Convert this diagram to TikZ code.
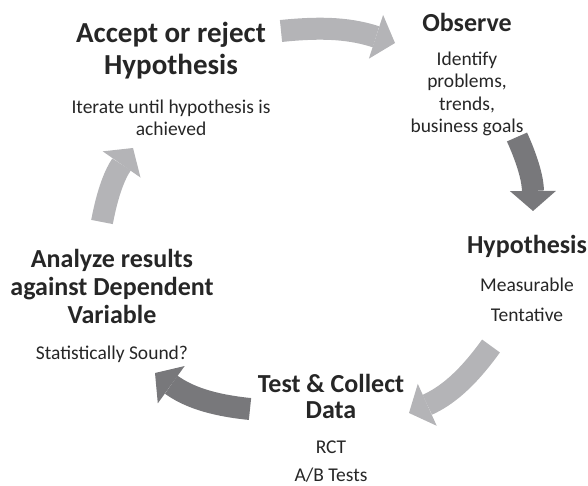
\documentclass[tikz,border=0pt]{standalone}
\usepackage{fontspec}
\setmainfont{Carlito}
\usepackage{xcolor}
\usetikzlibrary{arrows.meta,positioning}

\definecolor{inkgray}{HTML}{262626}
\definecolor{arrowlight}{HTML}{B4B4B7}
\definecolor{arrowdark}{HTML}{78787B}

\tikzset{
    steptitle/.style={font=\bfseries\fontsize{26}{28}\selectfont, text=inkgray, align=center, inner sep=0pt},
    stepnote/.style={font=\fontsize{19.5}{22.5}\selectfont, text=inkgray, align=center, inner sep=0pt},
    cyclearrow/.style={line width=22pt, -{Triangle[width=46pt,length=20pt,line width=0pt]}},
    lightarrow/.style={cyclearrow, draw=arrowlight},
    darkarrow/.style={cyclearrow, draw=arrowdark}
}

\begin{document}
\begin{tikzpicture}[x=1pt, y=-1pt, node distance=20pt]
    \useasboundingbox (0,0) rectangle (588,486);

    % the five steps
    \node (accept) [steptitle, font=\bfseries\fontsize{29}{32}\selectfont] at (171,51) {Accept or reject\\Hypothesis};
    \node (acceptnote) [stepnote, below=of accept] {Iterate until hypothesis is\\achieved};

    \node (observe) [steptitle] at (467,22) {Observe};
    \node (observenote) [stepnote, below=of observe] {Identify\\problems,\\trends,\\business goals};

    \node (hypo) [steptitle] at (527,246) {Hypothesis};
    \node (hyponote) [stepnote, below=of hypo] {Measurable\\[8pt]Tentative};

    \node (test) [steptitle, font=\bfseries\fontsize{26}{26}\selectfont] at (331,396) {Test \& Collect\\Data};
    \node (testnote) [stepnote, below=22pt of test] {RCT\\[6pt]A/B Tests};

    \node (analyze) [steptitle] at (112,286) {Analyze results\\against Dependent\\Variable};
    \node (analyzenote) [stepnote, below=22pt of analyze] {Statistically Sound?};

    % arrow ends
    \coordinate (a1) at (281,31);  \coordinate (b1) at (395,43);
    \coordinate (a2) at (517,137); \coordinate (b2) at (533,211);
    \coordinate (a3) at (491,346); \coordinate (b3) at (409,413);
    \coordinate (a4) at (250,409); \coordinate (b4) at (155,373);
    \coordinate (a5) at (102,222); \coordinate (b5) at (133,148);

    \draw[lightarrow] (a1) to[bend left=12] (b1);
    \draw[darkarrow] (a2) to[bend left=12] (b2);
    \draw[lightarrow] (a3) to[bend left=15] (b3);
    \draw[darkarrow] (a4) to[bend left=15] (b4);
    \draw[lightarrow] (a5) to[bend left=12] (b5);
\end{tikzpicture}
\end{document}
